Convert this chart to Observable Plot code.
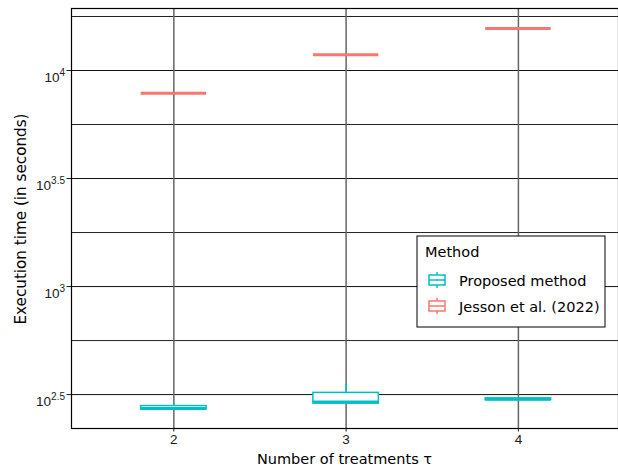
<!DOCTYPE html>
<html><head><meta charset="utf-8">
<script src="https://cdn.jsdelivr.net/npm/d3@7"></script>
<script src="https://cdn.jsdelivr.net/npm/@observablehq/plot@0.6"></script>
<style>
body{margin:0;background:#fff;}
#chart{position:relative;width:618px;height:471px;overflow:hidden;}
</style>
</head><body><div id="chart"></div>
<script>
// ---- data ----
const treatments = [2, 3, 4];
const methods = ["Proposed method", "Jesson et al. (2022)"];
const methodColors = ["#00BFC4", "#F8766D"];
// box statistics (seconds) for each treatment count
const proposedLo  = [269.5, 287.3, 298.3];
const proposedQ1  = [269.5, 287.3, 298.3];
const proposedMed = [272.4, 292.0, 300.5];
const proposedQ3  = [279.8, 322.0, 303.7];
const proposedHi  = [288.8, 353.8, 303.7];
const jessonLo  = [7850, 11820, 15650];
const jessonQ1  = [7850, 11820, 15650];
const jessonMed = [7850, 11820, 15650];
const jessonQ3  = [7850, 11820, 15650];
const jessonHi  = [7850, 11820, 15650];
const yTickExponents = [2.5, 3, 3.5, 4];
const yMinorExponents = [2.75, 3.25, 3.75, 4.25];
const xLabel = "Number of treatments \u03c4";
const yLabel = "Execution time (in seconds)";
const legendTitle = "Method";

// ---- build table ----
const rows = [];
treatments.forEach((t, i) => {
  rows.push({t, method: methods[0], lo: proposedLo[i], q1: proposedQ1[i], med: proposedMed[i], q3: proposedQ3[i], hi: proposedHi[i]});
  rows.push({t, method: methods[1], lo: jessonLo[i], q1: jessonQ1[i], med: jessonMed[i], q3: jessonQ3[i], hi: jessonHi[i]});
});
const yTicks = yTickExponents.map(e => Math.pow(10, e));
const yMinor = yMinorExponents.map(e => Math.pow(10, e));
const halfW = 0.19;
const fontTick = "Liberation Sans, Arial, sans-serif";

const plot = Plot.plot({
  width: 618, height: 471,
  marginLeft: 71, marginRight: 0, marginTop: 8, marginBottom: 43,
  style: {fontFamily: fontTick, fontSize: "13px", color: "#1a1a1a", background: "#fff", overflow: "hidden"},
  x: {type: "linear", domain: [1.406, 4.581]},
  y: {type: "log", domain: [Math.pow(10, 2.343), Math.pow(10, 4.287)]},
  color: {domain: methods, range: methodColors},
  marks: [
    Plot.ruleY(yMinor, {stroke: "#222", strokeWidth: 1}),
    Plot.ruleY(yTicks, {stroke: "#111", strokeWidth: 1}),
    Plot.ruleX(treatments, {stroke: "#666", strokeWidth: 1.5}),
    Plot.ruleX(rows, {x: "t", y1: "q3", y2: "hi", stroke: "method", strokeWidth: 1.5}),
    Plot.ruleX(rows, {x: "t", y1: "lo", y2: "q1", stroke: "method", strokeWidth: 1.5}),
    Plot.rect(rows, {x1: d => d.t - halfW, x2: d => d.t + halfW, y1: "q1", y2: "q3", fill: "white", stroke: "method", strokeWidth: 1.5}),
    Plot.ruleY(rows, {x1: d => d.t - halfW, x2: d => d.t + halfW, y: "med", stroke: "method", strokeWidth: 3}),
    Plot.frame({stroke: "#000", strokeWidth: 1.2}),
    Plot.axisX({ticks: treatments, tickSize: 3.5, tickPadding: 2, tickFormat: d => String(d), label: null}),
    Plot.axisY({ticks: yTicks, tickSize: 4.5, tickPadding: 2, tickFormat: d => "10^" + (Math.round(Math.log10(d) * 10) / 10), label: null})
  ]
});
document.getElementById("chart").appendChild(plot);

const svg = d3.select(plot);
svg.selectAll('g[aria-label="x-axis tick label"] text').attr("font-size", "13.5px");
// superscript tick labels
svg.selectAll('g[aria-label="y-axis tick label"] text').each(function() {
  const s = this.textContent;
  const parts = s.split("^");
  if (parts.length !== 2) return;
  const t = d3.select(this);
  t.text(null);
  t.attr("dy", "0.55em").attr("font-size", "13.5px");
  t.append("tspan").text(parts[0]);
  t.append("tspan").attr("dy", "-0.6em").attr("font-size", "10px").text(parts[1]);
});

const titleFont = "DejaVu Sans, Liberation Sans, Arial, sans-serif";
// axis titles
svg.append("text").attr("x", (71 + 618) / 2).attr("y", 464)
  .attr("text-anchor", "middle").attr("font-family", titleFont).attr("font-size", "14.5px").attr("fill", "#000").text(xLabel);
svg.append("text").attr("transform", "translate(26,219) rotate(-90)")
  .attr("text-anchor", "middle").attr("font-family", titleFont).attr("font-size", "15.2px").attr("fill", "#000").text(yLabel);

// legend
const lg = svg.append("g").attr("font-family", titleFont).attr("text-anchor", "start");
lg.append("rect").attr("x", 417).attr("y", 236).attr("width", 188).attr("height", 91)
  .attr("fill", "#fff").attr("stroke", "#000").attr("stroke-width", 1);
lg.append("text").attr("x", 425).attr("y", 257).attr("font-size", "14.5px").attr("fill", "#000").text(legendTitle);
methods.forEach((m, i) => {
  const cy = 280 + i * 26;
  const c = methodColors[i];
  const g = lg.append("g").attr("stroke", c).attr("stroke-width", 1.5).attr("fill", "none");
  g.append("line").attr("x1", 437).attr("x2", 437).attr("y1", cy - 8).attr("y2", cy + 8);
  g.append("rect").attr("x", 429).attr("y", cy - 5).attr("width", 16).attr("height", 10).attr("fill", "#fff");
  g.append("line").attr("x1", 429).attr("x2", 445).attr("y1", cy).attr("y2", cy);
  lg.append("text").attr("x", 459).attr("y", cy + 5.5).attr("font-size", "14.5px").attr("fill", "#000").text(m);
});
</script>
</body></html>
